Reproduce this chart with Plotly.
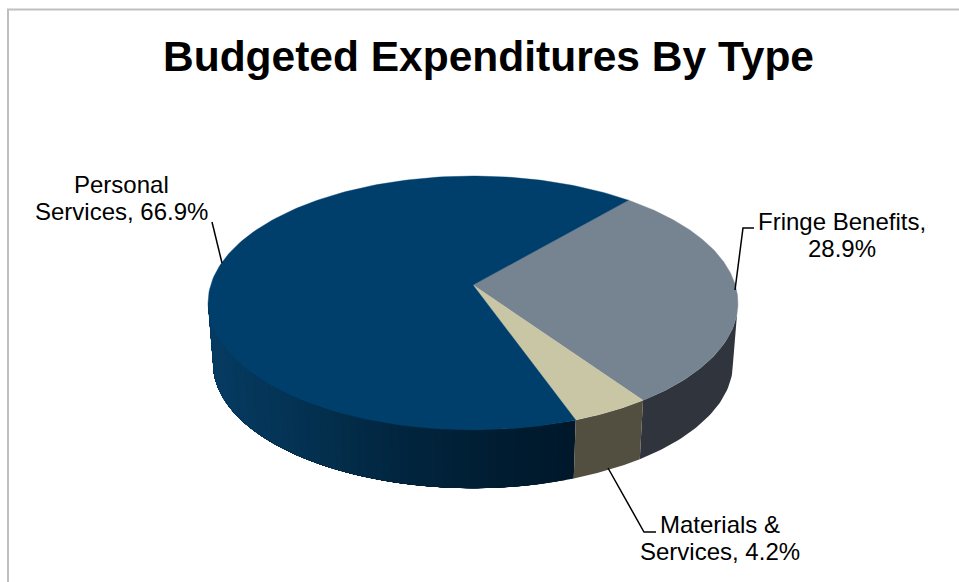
import numpy as np
import plotly.graph_objects as go

# Budget shares, clockwise from the start of the first slice
categories = ["Fringe Benefits", "Materials & Services", "Personal Services"]
shares = [28.9, 4.2, 66.9]
label_lines = [["Fringe Benefits,", "28.9%"], ["Materials &", "Services, 4.2%"], ["Personal", "Services, 66.9%"]]
top_colors = ["#768492", "#c9c6a6", "#003f6b"]
side_colors = ["#2f343d", "#534f40", None]

# Rendering geometry of the tilted disc, in page pixels
W, H = 959, 582
CX, APEX_Y = 473, 285
R, K, P = 262.3, 124.4, 0.1416
BASE_SCALE, BASE_Y = 0.981, 346
START_DEG = 41.0
# Angle at which the rim turns away from the viewer on the right-hand side
SILHOUETTE_DEG = np.degrees(np.arccos(-P))


def project(theta_deg, scale=1.0, cy=APEX_Y):
    """Perspective projection of a rim point, angle clockwise from the back."""
    t = np.radians(theta_deg)
    u, v = np.sin(t), -np.cos(t)
    d = 1 - P * v
    return CX + scale * R * u / d, cy + scale * K * v / d


def wall(a0, a1, n):
    angles = np.linspace(a0, a1, n)
    x0, y0 = project(angles)
    x1, y1 = project(angles[::-1], BASE_SCALE, BASE_Y)
    return np.r_[x0, x1, x0[0]], np.r_[y0, y1, y0[0]]


def poly(x, y, color, edge=0.6):
    return go.Scatter(
        x=x, y=y, mode="lines", fill="toself", fillcolor=color,
        line=dict(color=color, width=edge), hoverinfo="skip", showlegend=False,
    )


edges = START_DEG + np.r_[0, np.cumsum(shares)] * 3.6
fig = go.Figure()

# Outer walls: flat tone for the two right slices, graded for the large one.
# Only the part of the rim that faces the viewer is drawn.
shade_x = [205, 300, 400, 500, 575]
shade_r = [7, 4, 2, 0, 0]
shade_g = [60, 50, 38, 29, 24]
shade_b = [99, 82, 63, 50, 42]
wall_end = 360 - SILHOUETTE_DEG
steps = np.linspace(edges[2], wall_end, 61)
# Each band runs on to the far end of the wall so that neighbours leave no seam
for a0, a1 in zip(steps[:-1], steps[1:]):
    xm = project((a0 + a1) / 2)[0]
    rgb = [int(np.interp(xm, shade_x, c)) for c in (shade_r, shade_g, shade_b)]
    fig.add_trace(poly(*wall(a0, wall_end, 40), f"rgb({rgb[0]},{rgb[1]},{rgb[2]})", edge=0))
fig.add_trace(poly(*wall(SILHOUETTE_DEG, edges[1], 40), side_colors[0], edge=0))
fig.add_trace(poly(*wall(edges[1], edges[2], 40), side_colors[1], edge=0))

# Top faces
for i, color in enumerate(top_colors):
    x, y = project(np.linspace(edges[i], edges[i + 1], 200))
    fig.add_trace(poly(np.r_[CX, x, CX], np.r_[APEX_Y, y, APEX_Y], color, edge=0.4))

# Leader lines from each slice to its label
leaders = [
    ([735, 743, 754], [290, 228, 228]),
    ([608, 644, 656], [468, 532, 532]),
    ([222, 212], [263, 222]),
]
for lx, ly in leaders:
    fig.add_trace(go.Scatter(x=lx, y=ly, mode="lines", line=dict(color="#000000", width=1.5),
                             hoverinfo="skip", showlegend=False))

label_pos = [(842, 221), (719.5, 524.5), (121.5, 184.5)]
for lines, (lx, ly) in zip(label_lines, label_pos):
    for row, text in enumerate(lines):
        fig.add_annotation(x=lx, y=ly + row * 27, text=text, showarrow=False,
                           xanchor="center", yanchor="middle",
                           font=dict(family="Liberation Sans", size=24, color="#000000"))

# Chart frame, running off the right and bottom of the page
fig.add_shape(type="line", x0=8, x1=8, y0=9.5, y1=H, line=dict(color="#bfbfbf", width=2))
fig.add_shape(type="line", x0=7, x1=W, y0=9.5, y1=9.5, line=dict(color="#bfbfbf", width=2))

fig.add_annotation(x=488, y=56, text="<b>Budgeted Expenditures By Type</b>", showarrow=False,
                   xanchor="center", yanchor="middle",
                   font=dict(family="Liberation Sans", size=42.5, color="#000000"))

fig.update_layout(
    width=W, height=H, margin=dict(l=0, r=0, t=0, b=0),
    paper_bgcolor="#ffffff", plot_bgcolor="#ffffff", showlegend=False,
    xaxis=dict(range=[0, W], visible=False, fixedrange=True),
    yaxis=dict(range=[H, 0], visible=False, fixedrange=True),
)
fig.write_html("out.html", config={"displayModeBar": False})
